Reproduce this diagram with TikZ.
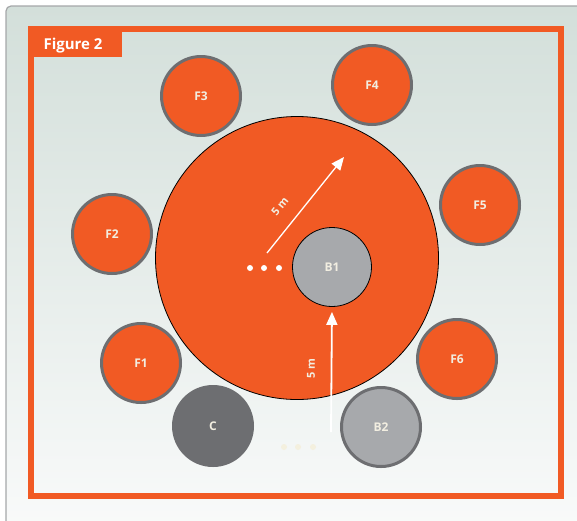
\documentclass[tikz,border=0pt]{standalone}
\usepackage{fontspec}
\setmainfont{Open Sans}
\usetikzlibrary{arrows.meta}
\definecolor{arancio}{RGB}{241,90,36}
\definecolor{grigioscuro}{RGB}{109,110,113}
\definecolor{grigiochiaro}{RGB}{167,169,172}
\definecolor{crema}{RGB}{242,238,225}
\definecolor{fondoalto}{RGB}{211,223,218}
\definecolor{fondobasso}{RGB}{250,251,251}
\definecolor{bordo}{RGB}{165,167,169}
\definecolor{puntotenue}{RGB}{244,240,222}
\tikzset{
  testo/.style={text=crema, font=\bfseries\fontsize{12}{14}\selectfont},
  persona/.style={circle, minimum size=79pt, inner sep=0pt, fill=arancio,
    draw=grigioscuro, line width=3pt, testo},
  zona/.style={circle, minimum size=283pt, inner sep=0pt, fill=arancio,
    draw=black, line width=0.8pt},
  freccia/.style={draw=white, -{Triangle[length=13pt,width=11pt]}},
  misura/.style={text=crema, font=\bfseries\fontsize{11}{13}\selectfont}
}
\begin{document}
\begin{tikzpicture}[x=1pt, y=-1pt]
    \useasboundingbox (0,0) rectangle (577,520);
    % Sfondo del riquadro
    \shade[top color=fondoalto, bottom color=fondobasso, draw=bordo,
        line width=1.2pt, rounded corners=5pt] (6,6) rectangle (600,545);
    % Cornice arancione e linguetta
    \draw[arancio, line width=6pt] (31,29) rectangle (561,496);
    \fill[arancio] (28,26) rectangle (122,57);
    \node[anchor=base west, text=white,
        font=\bfseries\fontsize{15}{17}\selectfont] (titolo) at (40,49) {Figure 2};
    % Zona di 5 m e bombola B1
    \node[zona] (zona) at (297,258) {};
    \node[circle, minimum size=79pt, inner sep=0pt, fill=grigiochiaro,
        draw=black, line width=0.8pt, testo] (B1) at (332,267) {B1};
    % Frecce delle distanze
    \coordinate (centro) at (267,253);
    \coordinate (raggio) at (344,157);
    \draw[freccia, line width=1.3pt] (centro) -- (raggio);
    \node[misura, rotate=51] (m1) at (280,206) {5 m};
    \coordinate (piede) at (331,432);
    \draw[freccia, line width=1.8pt, shorten >=5pt] (piede) -- (B1.south);
    \node[misura, rotate=90] (m2) at (311,369) {5 m};
    % Puntini
    \foreach \x in {250,264,279}
        \fill[white] (\x,268) circle (3pt);
    \foreach \x in {284,298,313}
        \fill[puntotenue] (\x,447) circle (3pt);
    % Cerchi intorno alla zona
    \node[persona] (F1) at (141,363) {F1};
    \node[persona] (F2) at (112,234) {F2};
    \node[persona] (F3) at (201,96) {F3};
    \node[persona] (F4) at (372,85) {F4};
    \node[persona] (F5) at (480,205) {F5};
    \node[persona] (F6) at (457,359) {F6};
    % Bombole in basso
    \node[circle, minimum size=82pt, inner sep=0pt, fill=grigioscuro,
        testo] (C) at (213,426) {C};
    \node[circle, minimum size=79pt, inner sep=0pt, fill=grigiochiaro,
        draw=grigioscuro, line width=3pt, testo] (B2) at (381,427) {B2};
\end{tikzpicture}
\end{document}
